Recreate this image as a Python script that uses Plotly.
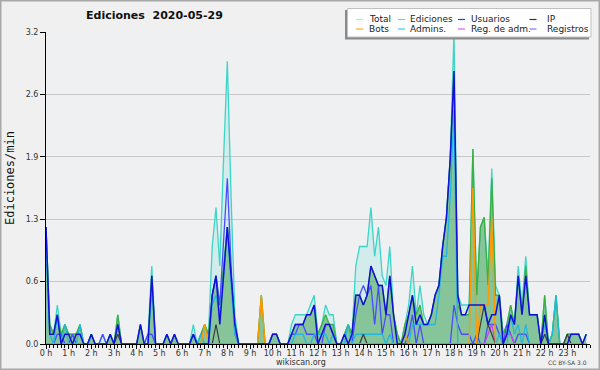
import plotly.graph_objects as go

# ---------------- data (edits per 10-minute slot) ----------------
minutes = list(range(0, 1440, 10))

total = [12, 2, 1, 4, 1, 2, 1, 1, 1, 2, 0, 0,
         1, 0, 0, 1, 0, 1, 0, 3, 0, 0, 0, 0,
         0, 2, 0, 1, 8, 0, 0, 0, 1, 0, 1, 0,
         0, 0, 0, 2, 0, 1, 2, 1, 10, 14, 8, 19,
         29, 15, 3, 0, 0, 0, 0, 0, 0, 5, 0, 0,
         1, 1, 0, 0, 0, 2, 3, 3, 3, 3, 4, 5,
         1, 2, 4, 3, 3, 0, 0, 1, 2, 1, 8, 10,
         10, 10, 14, 9, 12, 7, 6, 10, 3, 1, 0, 2,
         4, 8, 3, 6, 3, 2, 3, 5, 6, 10, 13, 19,
         32, 5, 4, 4, 4, 20, 5, 12, 13, 7, 18, 6,
         5, 1, 2, 4, 2, 8, 4, 9, 3, 3, 3, 0,
         5, 0, 1, 5, 0, 0, 1, 1, 1, 1, 0, 1]

ediciones = [12, 2, 1, 3, 1, 2, 1, 1, 1, 2, 0, 0,
             1, 0, 0, 0, 0, 1, 0, 3, 0, 0, 0, 0,
             0, 2, 0, 0, 7, 0, 0, 0, 1, 0, 1, 0,
             0, 0, 0, 1, 0, 1, 2, 1, 5, 7, 4, 8,
             12, 7, 2, 0, 0, 0, 0, 0, 0, 5, 0, 0,
             1, 1, 0, 0, 0, 1, 2, 2, 2, 3, 3, 4,
             1, 2, 3, 2, 2, 0, 0, 1, 2, 1, 5, 5,
             4, 5, 8, 7, 6, 6, 3, 7, 3, 1, 0, 2,
             3, 5, 3, 4, 2, 2, 3, 5, 6, 10, 13, 19,
             28, 4, 3, 3, 3, 20, 5, 12, 13, 6, 17, 5,
             5, 1, 2, 4, 2, 7, 3, 8, 3, 3, 3, 0,
             5, 0, 1, 5, 0, 0, 1, 1, 1, 1, 0, 1]

usuarios = [12, 1, 1, 3, 0, 1, 1, 0, 1, 1, 0, 0,
            1, 0, 0, 0, 0, 1, 0, 2, 0, 0, 0, 0,
            0, 2, 0, 0, 7, 0, 0, 0, 1, 0, 1, 0,
            0, 0, 0, 1, 0, 0, 0, 0, 5, 7, 2, 7,
            12, 7, 2, 0, 0, 0, 0, 0, 0, 0, 0, 0,
            1, 1, 0, 0, 0, 1, 2, 2, 2, 3, 3, 4,
            0, 1, 2, 2, 1, 0, 0, 1, 0, 1, 5, 5,
            4, 5, 8, 7, 6, 6, 3, 7, 3, 0, 0, 1,
            3, 5, 2, 3, 2, 2, 3, 5, 6, 10, 13, 19,
            28, 5, 3, 3, 4, 4, 4, 4, 4, 2, 3, 3,
            5, 0, 1, 3, 2, 7, 3, 7, 3, 3, 3, 0,
            3, 0, 0, 0, 0, 0, 0, 1, 1, 1, 0, 1]

ip = [0, 0, 0, 0, 0, 0, 0, 0, 0, 0, 0, 0,
      0, 0, 0, 0, 0, 0, 0, 1, 0, 0, 0, 0,
      0, 0, 0, 0, 0, 0, 0, 0, 0, 0, 0, 0,
      0, 0, 0, 0, 0, 0, 0, 0, 0, 2, 0, 0,
      0, 0, 0, 0, 0, 0, 0, 0, 0, 0, 0, 0,
      0, 0, 0, 0, 0, 0, 0, 0, 0, 0, 0, 0,
      0, 0, 0, 0, 0, 0, 0, 0, 0, 0, 0, 0,
      1, 0, 0, 0, 0, 0, 0, 0, 0, 0, 0, 0,
      0, 0, 0, 0, 0, 0, 0, 0, 0, 0, 0, 0,
      0, 0, 0, 0, 0, 0, 0, 2, 4, 2, 1, 0,
      0, 0, 0, 0, 0, 0, 0, 0, 0, 0, 0, 0,
      1, 0, 0, 0, 0, 0, 1, 0, 0, 0, 0, 0]

bots = [0, 0, 0, 0, 0, 0, 0, 0, 0, 0, 0, 0,
        0, 0, 0, 0, 0, 0, 0, 0, 0, 0, 0, 0,
        0, 0, 0, 0, 0, 0, 0, 0, 0, 0, 0, 0,
        0, 0, 0, 0, 0, 0, 2, 0, 0, 0, 0, 0,
        0, 0, 0, 0, 0, 0, 0, 0, 0, 5, 0, 0,
        0, 0, 0, 0, 0, 0, 0, 0, 0, 0, 0, 0,
        0, 0, 0, 0, 0, 0, 0, 0, 0, 0, 0, 0,
        0, 0, 0, 0, 0, 0, 0, 0, 0, 0, 0, 1,
        0, 0, 0, 0, 0, 0, 0, 0, 0, 0, 0, 0,
        0, 0, 0, 0, 0, 16, 0, 4, 4, 4, 13, 0,
        0, 0, 0, 0, 0, 0, 0, 0, 0, 0, 0, 0,
        0, 0, 0, 0, 0, 0, 0, 0, 0, 0, 0, 0]

admins = [10, 1, 0, 3, 0, 2, 0, 0, 0, 2, 0, 0,
          1, 0, 0, 0, 0, 0, 0, 0, 0, 0, 0, 0,
          0, 0, 0, 0, 6, 0, 0, 0, 0, 0, 0, 0,
          0, 0, 0, 1, 0, 1, 0, 0, 4, 5, 3, 7,
          12, 6, 1, 0, 0, 0, 0, 0, 0, 0, 0, 0,
          1, 1, 0, 0, 0, 0, 1, 1, 1, 0, 0, 1,
          1, 1, 1, 0, 1, 0, 0, 0, 2, 0, 1, 1,
          1, 1, 1, 1, 1, 1, 0, 1, 0, 0, 0, 1,
          0, 2, 2, 2, 2, 2, 2, 2, 5, 9, 9, 15,
          24, 0, 0, 0, 0, 0, 0, 0, 0, 0, 0, 0,
          1, 0, 0, 3, 1, 2, 0, 2, 0, 0, 0, 0,
          2, 0, 1, 5, 0, 0, 0, 0, 0, 0, 0, 0]

reg_adm = [0] * 116 + [0, 1, 2, 0, 0, 0, 1, 1, 0, 0, 0, 0] + [0] * 16

registros = [0, 0, 0, 1, 1, 0, 0, 1, 0, 0, 0, 0,
             0, 0, 0, 1, 0, 0, 0, 0, 0, 0, 0, 0,
             0, 0, 0, 1, 1, 0, 0, 0, 0, 0, 0, 0,
             0, 0, 0, 1, 0, 0, 0, 0, 5, 7, 4, 11,
             17, 8, 1, 0, 0, 0, 0, 0, 0, 0, 0, 0,
             0, 0, 0, 0, 0, 1, 1, 2, 2, 1, 1, 1,
             0, 0, 2, 2, 1, 0, 0, 0, 0, 0, 3, 5,
             6, 5, 6, 2, 6, 1, 3, 3, 0, 0, 0, 0,
             1, 3, 0, 2, 0, 0, 0, 0, 0, 0, 0, 0,
             4, 2, 1, 1, 1, 0, 1, 0, 0, 2, 2, 2,
             1, 0, 2, 1, 0, 1, 1, 1, 0, 0, 0, 0,
             0, 0, 0, 0, 0, 0, 0, 0, 0, 0, 0, 0]

y_tick_vals = [0, 0.64, 1.28, 1.92, 2.56, 3.2]
y_tick_text = ["0.0", "0.6", "1.3", "1.9", "2.6", "3.2"]
hour_ticks = list(range(24))
hour_labels = [f"{h} h" for h in hour_ticks]

title_text = "Ediciones \u00a02020-05-29"
y_title = "Ediciones/min"

# ---------------- figure ----------------
x = [m / 60 for m in minutes]
def per_min(v):
    return [n / 10 for n in v]

W, H = 600, 370
ML, MR, MT, MB = 46, 10, 32, 26
PL, PR, PT, PB = ML, W - MR, MT, H - MB

def px(xp):
    return (xp - PL) / (PR - PL)

def py(yp):
    return (PB - yp) / (PB - PT)

fig = go.Figure()

series = [
    ("Total", total, "#3dd6c6", 1.3, "tozeroy", "rgba(64,215,200,0.16)"),
    ("Ediciones", ediciones, "#3cb043", 1.3, "tozeroy", "rgba(66,160,80,0.52)"),
    ("Registros", registros, "#4b4bff", 1.3, None, None),
    ("Reg. de adm.", reg_adm, "#d040f0", 1.2, None, None),
    ("Admins.", admins, "#22b8dd", 1.3, None, None),
    ("IP", ip, "#3a3a3a", 1.2, None, None),
    ("Bots", bots, "#ff9a00", 1.4, None, None),
    ("Usuarios", usuarios, "#1010d8", 1.5, None, None),
]
for name, vals, col, w, fill, fc in series:
    kw = {}
    if fill:
        kw = dict(fill=fill, fillcolor=fc)
    fig.add_trace(go.Scatter(x=x, y=per_min(vals), name=name, mode="lines",
                             line=dict(color=col, width=w), showlegend=False,
                             hoverinfo="skip", **kw))

tickfont = dict(family="DejaVu Sans", size=8, color="#333333")
fig.update_layout(
    width=W, height=H, autosize=False,
    margin=dict(l=ML, r=MR, t=MT, b=MB, pad=0),
    paper_bgcolor="#f0f0f0", plot_bgcolor="#eef0f2",
    xaxis=dict(range=[0, 24], tickvals=hour_ticks, ticktext=hour_labels,
               ticks="outside", ticklen=4, tickcolor="black", tickwidth=1,
               showline=True, linecolor="black", linewidth=1,
               showgrid=False, zeroline=False, tickfont=tickfont,
               automargin=False, ticklabelstandoff=-3,
               minor=dict(dtick=1 / 6, tick0=0, ticks="outside", ticklen=3,
                          tickcolor="black", tickwidth=1, showgrid=False)),
    yaxis=dict(range=[0, 3.2], tickvals=y_tick_vals, ticktext=y_tick_text,
               ticks="outside", ticklen=5, tickcolor="black", tickwidth=1,
               showline=True, linecolor="black", linewidth=1,
               showgrid=True, gridcolor="#c8c8c8", gridwidth=1,
               zeroline=False, tickfont=tickfont, automargin=False),
)

shapes = []
annotations = []

# title
annotations.append(dict(text=title_text, x=px(154), y=py(16), xref="paper", yref="paper",
                        showarrow=False, xanchor="center", yanchor="middle",
                        font=dict(family="DejaVu Sans", size=11, color="#111", weight="bold")))
# y title
annotations.append(dict(text=y_title, x=px(9.5), y=py(178.5), xref="paper", yref="paper",
                        showarrow=False, textangle=-90, xanchor="center", yanchor="middle",
                        font=dict(family="DejaVu Sans Mono", size=12, color="#111")))
# footer
annotations.append(dict(text="wikiscan.org", x=px(301), y=py(362), xref="paper", yref="paper",
                        showarrow=False, xanchor="center", yanchor="middle",
                        font=dict(family="DejaVu Sans", size=8, color="#333")))
annotations.append(dict(text="CC BY-SA 3.0", x=px(589), y=py(362.5), xref="paper", yref="paper",
                        showarrow=False, xanchor="right", yanchor="middle",
                        font=dict(family="DejaVu Sans", size=6, color="#444")))

# legend box (shadow + white box)
shapes.append(dict(type="rect", xref="paper", yref="paper", layer="above",
                   x0=px(345), x1=px(589), y0=py(39.5), y1=py(10),
                   fillcolor="#8a8a8a", line=dict(width=0)))
shapes.append(dict(type="rect", xref="paper", yref="paper", layer="above",
                   x0=px(347.5), x1=px(591), y0=py(37), y1=py(8.5),
                   fillcolor="white", line=dict(color="#c0c0c0", width=1)))

legend_items = [
    ("Total", "#a6ece3", 356, 19.5), ("Ediciones", "#80d48a", 398, 19.5),
    ("Usuarios", "#3535f0", 458, 19.5), ("IP", "#333333", 529.5, 19.5),
    ("Bots", "#ffa733", 356, 29), ("Admins.", "#40cde0", 398, 29),
    ("Reg. de adm.", "#e060f0", 458, 29), ("Registros", "#7878ff", 529.5, 29),
]
text_offsets = {356: 367, 398: 408, 458: 469, 529.5: 545}
for label, col, sx, sy in legend_items:
    shapes.append(dict(type="line", xref="paper", yref="paper", layer="above",
                       x0=px(sx), x1=px(sx + 7), y0=py(sy), y1=py(sy),
                       line=dict(color=col, width=1.2)))
    annotations.append(dict(text=label, x=px(text_offsets[sx]), y=py(sy), xref="paper", yref="paper",
                            showarrow=False, xanchor="left", yanchor="middle",
                            font=dict(family="DejaVu Sans", size=9, color="#222")))

# outer border
shapes.append(dict(type="rect", xref="paper", yref="paper", layer="above",
                   x0=px(0.75), x1=px(599.25), y0=py(369.25), y1=py(0.75),
                   line=dict(color="#a8a8a8", width=1.5), fillcolor="rgba(0,0,0,0)"))

fig.update_layout(shapes=shapes, annotations=annotations)
fig.write_html("out.html", config={"displayModeBar": False},
               post_script="document.body.style.margin='0';document.body.style.padding='0';document.body.style.overflow='hidden';")
